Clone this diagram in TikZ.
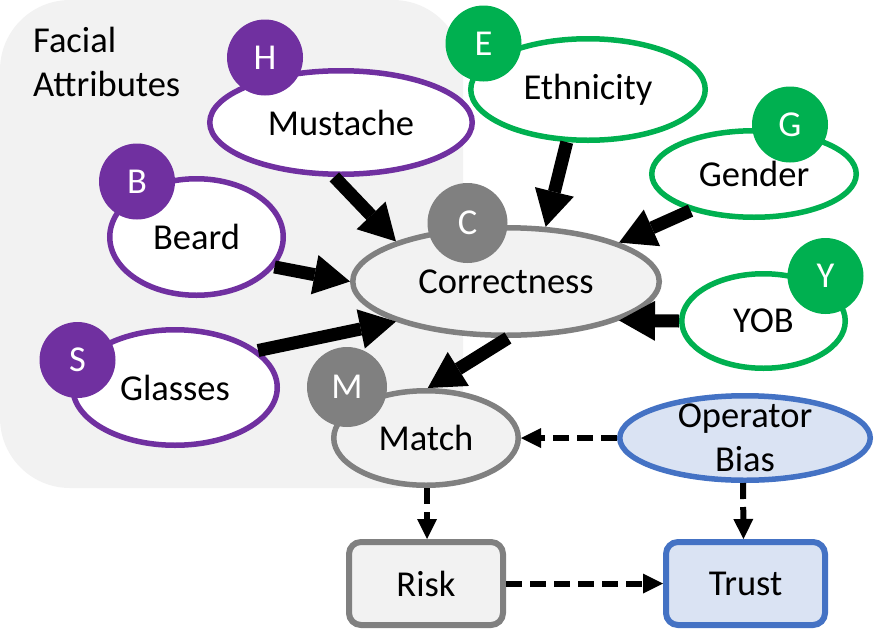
\documentclass[tikz,border=0pt]{standalone}
\usepackage{fontspec}
\setmainfont{Carlito}
\usetikzlibrary{shapes.geometric,arrows.meta}
\definecolor{purp}{HTML}{7030A0}
\definecolor{grn}{HTML}{00B050}
\definecolor{gry}{HTML}{808080}
\definecolor{lgray}{HTML}{F2F2F2}
\definecolor{bstroke}{HTML}{4472C4}
\definecolor{bfill}{HTML}{DAE3F3}
\begin{document}
\begin{tikzpicture}[x=1pt,y=-1pt,
  font=\fontsize{36.5pt}{44pt}\selectfont,
  purpell/.style={ellipse, draw=purp, line width=5.5pt, fill=white, inner sep=0pt},
  greenell/.style={ellipse, draw=grn, line width=5.5pt, fill=white, inner sep=0pt},
  grayell/.style={ellipse, draw=gry, line width=5.5pt, fill=lgray, inner sep=0pt},
  blueell/.style={ellipse, draw=bstroke, line width=5.5pt, fill=bfill, inner sep=0pt},
  graybox/.style={rectangle, rounded corners=12pt, draw=gry, line width=6pt, fill=lgray, inner sep=0pt},
  bluebox/.style={rectangle, rounded corners=12pt, draw=bstroke, line width=6pt, fill=bfill, inner sep=0pt},
  badge/.style={circle, minimum size=76pt, inner sep=0pt, text=white},
  bigarrow/.style={line width=13pt, -{Triangle[length=36pt,width=40pt,line width=0pt]}},
  dasharrow/.style={line width=6pt, dash pattern=on 16pt off 8pt, -{Triangle[length=20pt,width=20pt,line width=0pt]}},
]
\useasboundingbox (0,0) rectangle (875,632);
\fill[lgray, rounded corners=70pt] (0,0) rectangle (463,488);
\node[anchor=north west, align=left, inner sep=0pt] (fa) at (33,27) {Facial\\Attributes};

% ellipses
\node[purpell, minimum width=262.5pt, minimum height=103.5pt] (must) at (341,122.5) {Mustache};
\node[purpell, minimum width=173.5pt, minimum height=116.5pt] (beard) at (196.5,237) {Beard};
\node[purpell, minimum width=204.5pt, minimum height=115.5pt] (glass) at (175,387.5) {Glasses};
\node[grayell, minimum width=306.5pt, minimum height=107.5pt] (corr) at (506,281.5) {Correctness};
\node[grayell, minimum width=184.5pt, minimum height=94.5pt] (match) at (426,438) {Match};
\node[greenell, minimum width=234.5pt, minimum height=101.5pt] (eth) at (588,89.5) {Ethnicity};
\node[greenell, minimum width=204.5pt, minimum height=86.5pt] (gend) at (754,174) {Gender};
\node[greenell, minimum width=163.5pt, minimum height=94.5pt] (yob) at (763.5,321) {YOB};
\node[blueell, minimum width=250.5pt, minimum height=84.5pt] (ob) at (745,438) {};
\node[align=center, inner sep=0pt] (obtext) at (ob.center) {Operator\\Bias};
\node[graybox, minimum width=154pt, minimum height=83pt] (risk) at (426,583.5) {Risk};
\node[bluebox, minimum width=159pt, minimum height=83pt] (trust) at (745.5,583.5) {Trust};

% badges
\node[badge, fill=purp] (h) at (265,57.5) {H};
\node[badge, fill=purp] (b) at (137,181.5) {B};
\node[badge, fill=purp] (s) at (77.5,360) {S};
\node[badge, fill=gry, minimum size=80pt] (c) at (467.5,223) {C};
\node[badge, fill=gry, minimum size=80pt] (m) at (347,387) {M};
\node[badge, fill=grn] (e) at (483.5,43.5) {E};
\node[badge, fill=grn] (g) at (790,124.5) {G};
\node[badge, fill=grn] (y) at (825.5,276) {Y};

% solid arrows
\draw[bigarrow] (must.263) -- (corr.160.4);
\draw[bigarrow] (beard.-21.7) -- (corr.180);
\draw[bigarrow] (glass.24.5) -- (corr.200);
\draw[bigarrow] (eth.248.6) -- (corr.54.4);
\draw[bigarrow] (gend.210.5) -- (corr.19);
\draw[bigarrow] (yob.180) -- (corr.-19.6);
\draw[bigarrow] (corr.-88) -- (match.88);

% dashed arrows
\draw[dasharrow] (ob.west) -- (match.east);
\draw[dasharrow] ([xshift=1pt]match.south) -- ([xshift=1pt]risk.north);
\draw[dasharrow] ([xshift=-2pt]ob.south) -- ([xshift=-2pt]trust.north);
\draw[dasharrow] (risk.east) -- (trust.west);
\end{tikzpicture}
\end{document}
